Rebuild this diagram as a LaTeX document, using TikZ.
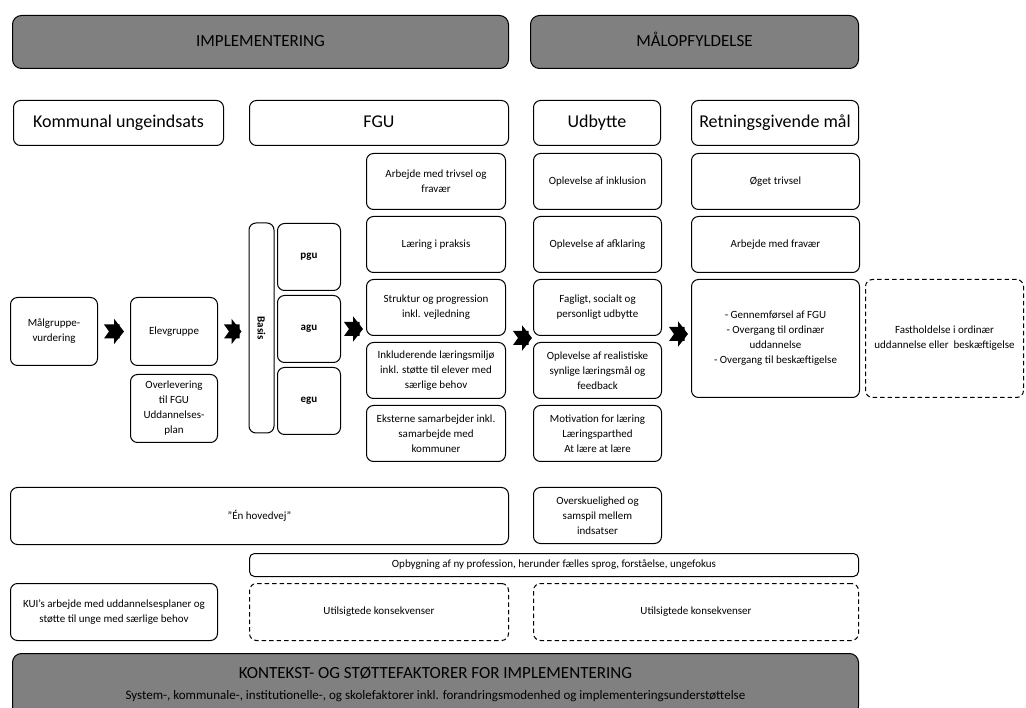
\documentclass[tikz,border=0pt]{standalone}
\usepackage{fontspec}
\setmainfont{Carlito}
\usetikzlibrary{positioning, arrows.meta, calc}
\tikzset{
  box/.style={
    rectangle, draw, line width=1pt,
    rounded corners=7pt, align=center, inner sep=2pt,
    font=\fontsize{11}{15}\selectfont
  },
  head/.style={box, fill=black!50, rounded corners=9pt,
    minimum height=53pt, text height=12pt, text depth=3pt,
    font=\fontsize{17}{20}\selectfont},
  title/.style={box, minimum height=45pt, text height=13pt, text depth=4pt,
    font=\fontsize{18}{20}\selectfont},
  fgubox/.style={box, minimum width=139pt, minimum height=56pt},
  udbbox/.style={box, minimum width=128pt, minimum height=56pt},
  retbox/.style={box, minimum width=168pt, minimum height=56pt},
  spor/.style={box, minimum width=63pt, minimum height=67pt,
    font=\fontsize{11}{13}\selectfont\bfseries},
  dbox/.style={box, dash pattern=on 4.5pt off 3pt},
  chev/.style={draw, line width=14pt,
    {Triangle Cap[reversed, length=5pt]}-{Triangle[length=10pt, width=25pt]}},
}
\begin{document}
\begin{tikzpicture}[x=1pt, y=-1pt]
  \useasboundingbox (0,0) rectangle (1026,708);

  % overskrifter
  \node[head, minimum width=496pt, anchor=north west] (impl) at (12,15) {IMPLEMENTERING};
  \node[head, minimum width=328pt, anchor=north west] (malopf) at (530,15) {MÅLOPFYLDELSE};

  \node[title, minimum width=210pt, anchor=north west] (komm) at (13,100) {Kommunal ungeindsats};
  \node[title, minimum width=259pt, anchor=north west] (fgu) at (249,100) {FGU};
  \node[title, minimum width=127pt, anchor=north west] (udb) at (533,100) {Udbytte};
  \node[title, minimum width=167pt, anchor=north west] (ret) at (691,100) {Retningsgivende mål};

  % kommunal ungeindsats
  \node[box, minimum width=87pt, minimum height=68pt, anchor=north west]
    (mal) at (10,297) {Målgruppe-\\vurdering};
  \node[box, minimum width=87pt, minimum height=68pt, right=32pt of mal]
    (elev) {Elevgruppe};
  \node[box, minimum width=87pt, minimum height=68pt, below=8pt of elev]
    (overl) {Overlevering\\til FGU\\Uddannelses-\\plan};

  % spor
  \node[box, rotate=-90, minimum width=210pt, minimum height=25pt,
    font=\fontsize{11}{13}\selectfont\bfseries] (basis) at (261.5,328) {Basis};
  \node[spor, anchor=north west] (pgu) at (277,223) {pgu};
  \node[spor, below=4pt of pgu] (agu) {agu};
  \node[spor, below=4pt of agu] (egu) {egu};

  % FGU
  \node[fgubox, anchor=north west] (trivs) at (366,153) {Arbejde med trivsel og\\fravær};
  \node[fgubox, below=6pt of trivs] (praksis) {Læring i praksis};
  \node[fgubox, below=6pt of praksis] (struk) {Struktur og progression\\inkl. vejledning};
  \node[fgubox, below=6pt of struk] (inkmil) {Inkluderende læringsmiljø\\inkl. støtte til elever med\\særlige behov};
  \node[fgubox, below=6pt of inkmil] (ekst) {Eksterne samarbejder inkl.\\samarbejde med\\kommuner};

  % udbytte
  \node[udbbox, anchor=north west] (inkl) at (533,153) {Oplevelse af inklusion};
  \node[udbbox, below=6pt of inkl] (afkl) {Oplevelse af afklaring};
  \node[udbbox, below=6pt of afkl] (fag) {Fagligt, socialt og\\personligt udbytte};
  \node[udbbox, below=6pt of fag] (real) {Oplevelse af realistiske\\synlige læringsmål og\\feedback};
  \node[udbbox, below=6pt of real] (motiv) {Motivation for læring\\Læringsparthed\\At lære at lære};
  \node[udbbox, anchor=north west] (overs) at (533,487) {Overskuelighed og\\samspil mellem\\indsatser};

  % retningsgivende mål
  \node[retbox, anchor=north west] (oget) at (691,153) {Øget trivsel};
  \node[retbox, below=6pt of oget] (fravaer) {Arbejde med fravær};
  \node[retbox, minimum height=118pt, below=6pt of fravaer] (gen)
    {- Gennemførsel af FGU\\- Overgang til ordinær\\uddannelse\\- Overgang til beskæftigelse};
  \node[dbox, minimum width=158pt, minimum height=118pt, right=5pt of gen] (fast)
    {Fastholdelse i ordinær\\uddannelse eller\ \ beskæftigelse};

  % nederste raekker
  \node[box, minimum width=498pt, minimum height=57pt, anchor=north west]
    (hoved) at (10,487) {”Én hovedvej”};
  \node[box, rounded corners=5pt, minimum width=609pt, minimum height=23pt, anchor=north west]
    (opb) at (249,553) {Opbygning af ny profession, herunder fælles sprog, forståelse, ungefokus};
  \node[box, minimum width=207pt, minimum height=57pt, anchor=north west]
    (kui) at (10,583) {KUI’s arbejde med uddannelsesplaner og\\støtte til unge med særlige behov};
  \node[dbox, minimum width=259pt, minimum height=57pt, anchor=north west]
    (util1) at (249,583) {Utilsigtede konsekvenser};
  \node[dbox, minimum width=325pt, minimum height=57pt, anchor=north west]
    (util2) at (533,583) {Utilsigtede konsekvenser};
  \node[box, fill=black!50, rounded corners=9pt, minimum width=846pt, minimum height=62pt,
    anchor=north west] (kontekst) at (12,653)
    {{\fontsize{17}{20}\selectfont KONTEKST- OG STØTTEFAKTORER FOR IMPLEMENTERING}\\[6pt]
     {\fontsize{13}{15}\selectfont System-, kommunale-, institutionelle-, og skolefaktorer inkl. forandringsmodenhed og implementeringsunderstøttelse}};

  % pile
  \coordinate (a4) at ($(struk.south east)+(0,2)$);
  \coordinate (a5) at ($(fag.south east)+(0,-2)$);
  \draw[chev, shorten <=6pt, shorten >=6pt] (mal.east) -- (elev.west);
  \draw[chev, shorten <=6pt, shorten >=7pt] (elev.east) -- (elev.east -| basis.south);
  \draw[chev, shorten <=3pt, shorten >=3pt] (agu.east) -- (agu.east -| struk.west);
  \draw[chev, shorten <=7pt, shorten >=1pt] (a4) -- (a4 -| fag.west);
  \draw[chev, shorten <=7pt, shorten >=3pt] (a5) -- (a5 -| gen.west);
\end{tikzpicture}
\end{document}
